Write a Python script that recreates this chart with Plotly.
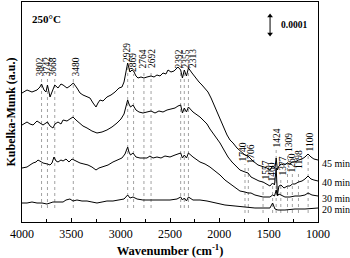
import plotly.graph_objects as go

# ---------------- data (Kubelka-Munk, arbitrary units, offset stacked) ----------------
wn_45 = [4000,3949,3899,3848,3818,3802,3777,3757,3742,3716,3696,3668,3635,3605,3584,3544,3514,3480,3443,3412,
         3382,3341,3311,3280,3250,3230,3209,3179,3139,3098,3057,3017,2987,2966,2946,2929,2916,2905,2885,2869,
         2845,2824,2794,2764,2733,2692,2662,2632,2601,2571,2541,2520,2490,2459,2419,2392,2374,2355,2333,2313,
         2277,2247,2206,2176,2145,2115,2084,2054,2024,1993,1963,1922,1892,1861,1821,1790,1740,1709,1659,1608,
         1557,1517,1487,1460,1436,1424,1411,1396,1375,1345,1309,1284,1260,1233,1198,1162,1132,1101,1071,1041,1000]
km_45 = [129,132,130,132,135,138,132,130,137,125,130,137,134,138,137,134,136,139,134,129,
         127,125,124,119,115,119,122,121,125,127,130,134,135,140,152,159,154,150,152,151,
         146,144,145,144,145,146,145,147,146,149,148,152,150,151,155,152,144,152,146,154,
         149,145,140,137,133,130,124,117,109,102,95,87,82,79,74,71,67,66,61,57,
         55,54,52,56,54,64,52,56,58,57,59,58,60,60,62,63,65,68,65,63,62]

wn_40 = [4000,3949,3919,3888,3848,3802,3787,3742,3716,3686,3666,3635,3605,3584,3544,3514,3483,3453,3422,3382,
         3341,3291,3240,3189,3139,3088,3037,2997,2966,2946,2929,2916,2900,2875,2845,2814,2774,2733,2692,2652,
         2612,2571,2530,2490,2449,2419,2392,2374,2355,2333,2313,2267,2226,2196,2155,2125,2095,2064,2034,1993,
         1953,1912,1872,1831,1791,1740,1709,1679,1639,1598,1557,1517,1487,1460,1441,1424,1411,1396,1375,1345,
         1309,1284,1260,1233,1198,1162,1132,1101,1071,1041,1000]
km_40 = [97,100,98,97,101,98,97,100,96,94,98,100,98,102,101,103,105,102,99,96,
         94,91,89,90,92,95,99,103,108,116,122,118,115,117,112,110,109,110,111,109,
         111,110,112,113,114,116,117,109,114,110,115,110,107,105,101,98,93,89,84,79,
         72,65,60,56,52,50,49,45,43,41,40,38,36,39,37,54,27,36,37,34,
         36,36,38,38,40,41,43,46,43,42,41]

wn_30 = [4000,3949,3919,3888,3858,3838,3802,3787,3742,3716,3696,3676,3655,3635,3605,3584,3554,3524,3493,3473,
         3443,3412,3372,3331,3291,3250,3220,3179,3128,3078,3027,2987,2956,2929,2916,2900,2875,2845,2804,2764,
         2733,2703,2672,2632,2591,2551,2500,2449,2419,2392,2374,2355,2333,2313,2267,2226,2196,2145,2095,2044,
         1993,1943,1892,1841,1791,1740,1709,1679,1639,1598,1557,1517,1487,1460,1441,1424,1411,1396,1375,1335,
         1284,1233,1182,1132,1101,1061,1000]
km_30 = [54,55,57,59,60,62,60,59,58,57,59,65,61,60,62,61,63,60,63,62,
         60,59,58,57,55,52,54,55,57,60,62,64,68,75,70,67,69,65,64,64,
         64,66,64,65,64,66,65,67,68,69,64,67,64,69,65,62,60,58,55,51,
         47,42,38,34,31,30,29,29,27,26,25,25,25,27,26,32,26,28,27,25,
         25,26,26,27,29,27,26]

wn_20 = [4000,3949,3899,3848,3797,3747,3716,3686,3635,3584,3554,3514,3483,3443,3392,3341,3291,3240,3189,3139,
         3078,3007,2966,2929,2905,2875,2834,2774,2703,2601,2500,2429,2392,2374,2355,2333,2313,2267,2196,2125,
         2044,1943,1841,1740,1639,1537,1487,1460,1436,1406,1335,1233,1132,1000]
km_20 = [19,19,20,19,19,18,19,20,20,20,22,23,21,22,21,21,20,19,20,21,
         21,22,23,27,24,25,23,22,22,22,22,23,25,22,24,21,25,22,22,21,
         19,17,16,15,14,14,14,19,13,12,12,13,13,14]

series_names = ["45 min", "40 min", "30 min", "20 min"]
series_wn = [wn_45, wn_40, wn_30, wn_20]
series_km = [km_45, km_40, km_30, km_20]
series_label_y = [59, 40, 24, 13]

# band assignments (cm-1)
peaks_high = [3802, 3742, 3668, 3480, 2929, 2869, 2764, 2692, 2392, 2355, 2313]
peaks_low = [1740, 1706, 1557, 1460, 1424, 1377, 1309, 1260, 1198, 1100]

x_ticks = [4000, 3500, 3000, 2500, 2000, 1500, 1000]
scale_bar_text = "0.0001"
title_text = "250°C"

# ---------------- layout helpers (positions / styles) ----------------
FONT = "Liberation Serif, Times New Roman, serif"
high_label_x = [3818, 3752, 3686, 3453, 2941, 2880, 2774, 2688, 2409, 2338, 2272]
high_line_top = [144, 144, 144, 144, 158, 148, 152, 152, 152, 152, 152]
low_label_x = [1770, 1689, 1537, 1476, 1416, 1355, 1299, 1264, 1198, 1091]
low_line_top = [58, 56, 40, 38, 73, 45, 68, 48, 51, 68]
scale_x = [1486, 1486]
scale_y = [188, 206]

fig = go.Figure()
for name, wn, km in zip(series_names, series_wn, series_km):
    fig.add_trace(go.Scatter(x=wn, y=km, mode="lines", name=name,
                             line=dict(color="black", width=1), showlegend=False))

# scale bar (double arrow)
fig.add_trace(go.Scatter(x=scale_x, y=scale_y, mode="lines+markers", showlegend=False,
                         hoverinfo="skip", line=dict(color="black", width=1),
                         marker=dict(symbol=["triangle-down", "triangle-up"], size=5,
                                     color="black")))

shapes = []
annotations = []
for p, lx, top in zip(peaks_high, high_label_x, high_line_top):
    shapes.append(dict(type="line", x0=p, x1=p, y0=14, y1=top, xref="x", yref="y",
                       line=dict(color="#8a8a8a", width=0.8, dash="dot"), layer="below"))
    annotations.append(dict(x=lx, y=top, text=str(p), textangle=-90, showarrow=False,
                            xanchor="center", yanchor="bottom",
                            font=dict(family=FONT, size=9.5, color="black")))
for p, lx, top in zip(peaks_low, low_label_x, low_line_top):
    shapes.append(dict(type="line", x0=p, x1=p, y0=9, y1=top, xref="x", yref="y",
                       line=dict(color="#8a8a8a", width=0.8, dash="dot"), layer="below"))
    annotations.append(dict(x=lx, y=top, text=str(p), textangle=-90, showarrow=False,
                            xanchor="center", yanchor="bottom",
                            font=dict(family=FONT, size=9.5, color="black")))

for name, ly in zip(series_names, series_label_y):
    annotations.append(dict(x=1000, y=ly, text=name, showarrow=False, xanchor="left",
                            yanchor="middle", xshift=2,
                            font=dict(family=FONT, size=10, color="black")))

annotations.append(dict(x=3919, y=203, text="<b>%s</b>" % title_text, showarrow=False,
                        xanchor="left", yanchor="middle",
                        font=dict(family=FONT, size=11, color="black")))
annotations.append(dict(x=1400, y=197, text="<b>%s</b>" % scale_bar_text, showarrow=False,
                        xanchor="left", yanchor="middle",
                        font=dict(family=FONT, size=9.5, color="black")))

fig.update_layout(
    width=350, height=258,
    margin=dict(l=22, r=32, t=2, b=36),
    paper_bgcolor="white", plot_bgcolor="white",
    shapes=shapes, annotations=annotations,
    font=dict(family=FONT, color="black"),
    xaxis=dict(range=[4000, 1000], tickvals=x_ticks, ticks="inside", ticklen=4,
               tickcolor="black", tickwidth=1,
               minor=dict(dtick=250, ticks="inside", ticklen=3, tickcolor="black"),
               showgrid=False, zeroline=False, showline=True, linecolor="black",
               linewidth=1.3, mirror=True,
               tickfont=dict(family=FONT, size=12, color="black"),
               title=dict(text="<b>Wavenumber (cm<sup>-1</sup>)</b>", standoff=6,
                          font=dict(family=FONT, size=12.5, color="black"))),
    yaxis=dict(range=[0, 220], showticklabels=False, ticks="", showgrid=False,
               zeroline=False, showline=True, linecolor="black", linewidth=1.3,
               mirror=True,
               title=dict(text="<b>Kubelka-Munk (a.u.)</b>", standoff=2,
                          font=dict(family=FONT, size=12, color="black"))),
)

fig.write_html("out.html", config={"displayModeBar": False},
               post_script="document.body.style.margin='0';document.body.style.padding='0';")
